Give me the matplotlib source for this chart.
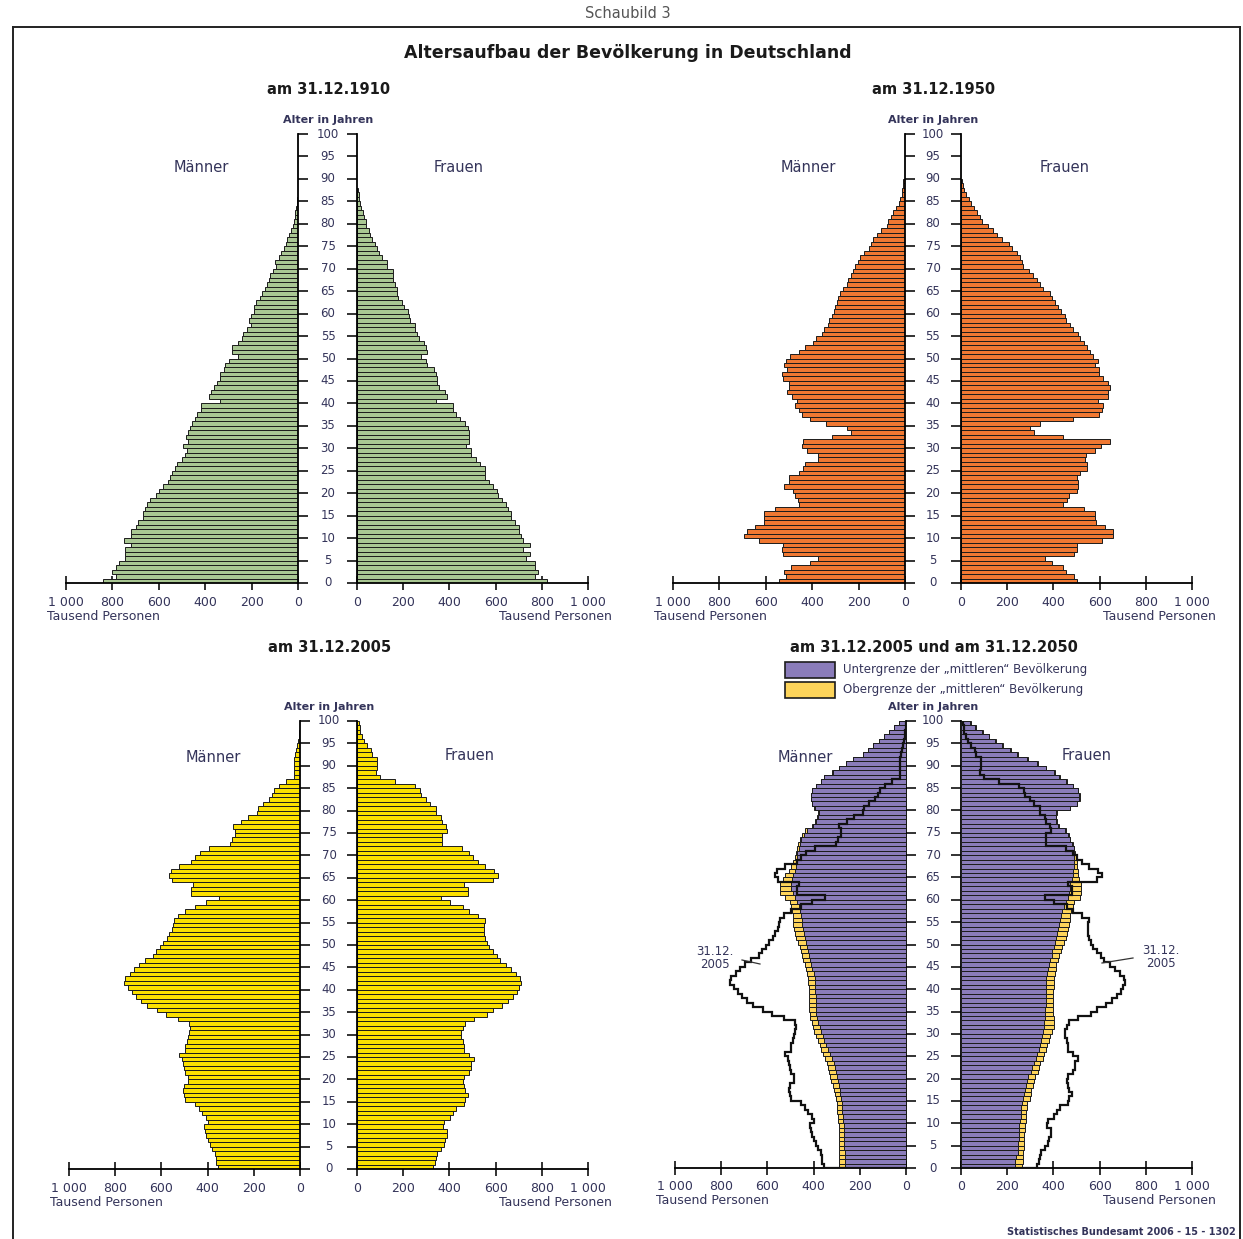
import numpy as np
import matplotlib
matplotlib.use("Agg")
import matplotlib.pyplot as plt
from matplotlib import transforms as mtrans
from matplotlib.lines import Line2D
from matplotlib.patches import Rectangle

# ---------------- data (thousand persons, by single year of age from 0) ----------------
men_1910 = [840, 785, 800, 785, 770, 745, 745, 745, 720, 750,
            720, 720, 700, 690, 670, 670, 660, 650, 640, 610,
            600, 580, 560, 550, 545, 530, 520, 500, 485, 480,
            494, 475, 483, 475, 465, 459, 445, 435, 420, 416,
            336, 382, 374, 363, 350, 336, 336, 320, 315, 299,
            259, 283, 283, 259, 243, 235, 219, 203, 211, 203,
            190, 190, 179, 163, 155, 142, 134, 126, 120, 107,
            94, 99, 83, 75, 62, 51, 46, 38, 30, 22,
            19, 14, 11, 8, 6, 4]
women_1910 = [823, 771, 784, 771, 771, 731, 747, 719, 747, 720,
              712, 700, 700, 684, 668, 668, 652, 644, 628, 612,
              604, 588, 572, 556, 556, 556, 532, 516, 492, 492,
              470, 484, 484, 484, 481, 468, 444, 430, 417, 417,
              340, 388, 380, 356, 348, 348, 340, 332, 305, 300,
              276, 305, 300, 292, 268, 260, 252, 252, 228, 225,
              220, 204, 196, 177, 172, 172, 164, 156, 156, 156,
              132, 132, 108, 97, 85, 77, 65, 58, 50, 40,
              37, 29, 26, 18, 13, 10, 8, 5]

men_1950 = [545, 512, 520, 490, 409, 373, 524, 531, 524, 631,
            696, 681, 646, 607, 607, 607, 560, 455, 460, 473,
            483, 521, 502, 502, 455, 438, 433, 373, 373, 423,
            445, 438, 316, 232, 251, 340, 409, 445, 459, 473,
            466, 488, 509, 502, 502, 524, 531, 509, 521, 512,
            495, 455, 430, 395, 383, 359, 349, 330, 326, 316,
            308, 301, 294, 287, 280, 268, 251, 244, 234, 225,
            215, 201, 194, 176, 154, 148, 136, 122, 105, 76,
            72, 62, 50, 39, 27, 22, 14, 11, 9, 7]
women_1950 = [504, 489, 455, 443, 393, 364, 489, 504, 500, 609,
              659, 659, 623, 584, 580, 580, 532, 440, 458, 469,
              504, 508, 508, 504, 515, 544, 544, 537, 541, 580,
              604, 647, 443, 318, 299, 340, 483, 599, 609, 616,
              594, 635, 637, 647, 637, 616, 599, 599, 580, 594,
              570, 558, 544, 532, 515, 508, 486, 472, 455, 450,
              432, 422, 407, 393, 386, 357, 343, 328, 311, 296,
              270, 263, 256, 242, 220, 206, 177, 155, 138, 119,
              91, 81, 69, 55, 43, 33, 23, 14, 9, 6]

men_2005 = [357, 363, 363, 368, 379, 389, 400, 405, 411, 416,
            400, 405, 424, 437, 453, 496, 501, 507, 501, 485,
            485, 496, 501, 507, 512, 523, 496, 496, 488, 485,
            480, 475, 480, 528, 581, 619, 664, 688, 709, 728,
            744, 760, 757, 736, 720, 699, 672, 635, 624, 608,
            592, 576, 568, 552, 549, 544, 528, 496, 456, 408,
            352, 472, 472, 464, 552, 568, 560, 523, 472, 456,
            432, 392, 304, 296, 283, 283, 288, 256, 224, 184,
            181, 160, 136, 120, 112, 91, 59, 24, 24, 24,
            27, 24, 21, 16, 11, 8, 5, 3, 2, 1]
women_2005 = [327, 337, 343, 348, 364, 375, 380, 388, 388, 372,
              375, 404, 417, 428, 465, 468, 481, 468, 465, 460,
              465, 484, 492, 492, 508, 484, 465, 465, 460, 452,
              452, 460, 468, 508, 564, 588, 628, 652, 676, 692,
              700, 708, 705, 689, 668, 647, 620, 604, 588, 572,
              564, 556, 548, 548, 548, 556, 524, 484, 460, 401,
              364, 481, 481, 465, 588, 609, 593, 556, 524, 500,
              484, 455, 369, 369, 369, 391, 385, 369, 364, 343,
              343, 316, 300, 276, 273, 252, 165, 101, 81, 88,
              88, 85, 65, 61, 45, 32, 21, 14, 11, 8]

men_2050_low = [262, 264, 266, 266, 268, 268, 268, 270, 270, 270,
                273, 273, 275, 276, 278, 281, 284, 287, 292, 295,
                298, 305, 309, 313, 322, 331, 338, 346, 353, 360,
                368, 374, 380, 385, 388, 390, 391, 391, 391, 392,
                393, 395, 396, 400, 405, 410, 415, 420, 424, 430,
                435, 439, 443, 447, 449, 451, 453, 458, 465, 470,
                480, 490, 496, 496, 492, 489, 480, 475, 472, 472,
                470, 465, 460, 455, 440, 430, 403, 390, 380, 378,
                395, 405, 410, 410, 405, 388, 367, 353, 317, 288,
                259, 230, 187, 165, 144, 115, 94, 72, 50, 29]
men_2050_up = [288, 288, 288, 288, 290, 290, 290, 292, 292, 292,
               295, 295, 297, 298, 300, 305, 309, 312, 318, 324,
               328, 334, 338, 342, 352, 360, 366, 374, 381, 388,
               398, 403, 408, 414, 417, 419, 420, 420, 420, 421,
               422, 423, 424, 428, 434, 439, 444, 450, 453, 460,
               468, 475, 479, 484, 489, 489, 489, 494, 500, 504,
               525, 547, 547, 545, 532, 525, 505, 496, 490, 480,
               478, 470, 466, 461, 450, 436, 408, 395, 384, 382,
               398, 408, 412, 412, 407, 390, 369, 355, 319, 290,
               260, 231, 188, 166, 145, 116, 95, 73, 51, 30]
women_2050_low = [233, 235, 238, 245, 248, 248, 250, 250, 252, 252,
                  255, 258, 258, 260, 262, 270, 272, 275, 283, 287,
                  292, 304, 309, 315, 325, 330, 337, 342, 345, 350,
                  356, 359, 361, 362, 364, 365, 366, 367, 367, 367,
                  368, 369, 370, 373, 377, 381, 386, 392, 396, 402,
                  406, 410, 415, 420, 425, 428, 432, 438, 446, 455,
                  465, 468, 470, 470, 480, 483, 486, 490, 490, 490,
                  490, 488, 480, 470, 465, 450, 420, 412, 410, 412,
                  470, 500, 510, 512, 505, 483, 454, 425, 403, 367,
                  330, 287, 243, 214, 178, 149, 120, 91, 62, 41]
women_2050_up = [265, 267, 270, 270, 272, 272, 274, 274, 276, 276,
                 280, 283, 283, 285, 287, 299, 301, 304, 312, 316,
                 321, 333, 338, 344, 355, 359, 366, 374, 381, 386,
                 396, 403, 403, 401, 400, 399, 399, 399, 399, 400,
                 401, 402, 403, 406, 410, 413, 418, 426, 432, 438,
                 446, 454, 458, 462, 468, 470, 473, 478, 483, 490,
                 515, 519, 520, 518, 509, 507, 506, 504, 500, 497,
                 494, 491, 484, 474, 468, 453, 423, 415, 413, 415,
                 473, 503, 513, 515, 508, 486, 457, 428, 406, 370,
                 333, 290, 246, 217, 181, 152, 123, 94, 65, 44]

age_ticks = list(range(0, 101, 5))
x_ticks = [0, 200, 400, 600, 800, 1000]
x_tick_labels = ["0", "200", "400", "600", "800", "1 000"]

panel_titles = ["am 31.12.1910", "am 31.12.1950", "am 31.12.2005",
                "am 31.12.2005 und am 31.12.2050"]
legend_labels = ["Untergrenze der \u201emittleren\u201c Bev\u00f6lkerung",
                 "Obergrenze der \u201emittleren\u201c Bev\u00f6lkerung"]

# ---------------- styling ----------------
C_1910 = "#a9c793"
C_1950 = "#f07832"
C_2005 = "#fbe000"
C_LOW = "#8a7cba"
C_UP = "#fdd45a"
EDGE = "#1c1c1c"
TXT = "#34345a"
FONT = "DejaVu Sans"
plt.rcParams["font.family"] = FONT

W, H = 1243, 1239
fig = plt.figure(figsize=(W / 100, H / 100), dpi=100)
fig.patch.set_facecolor("white")


def fx(px):
    return px / W


def fy(py):
    return 1 - py / H


def make_axes(xl, xr, yb, yt):
    return fig.add_axes([fx(xl), fy(yb), (xr - xl) / W, (yb - yt) / H])


def panel(mx, fxr, yb, yt, center, m_lab, f_lab, title, title_y):
    axm = make_axes(mx[0], mx[1], yb, yt)
    axf = make_axes(fxr[0], fxr[1], yb, yt)
    for ax in (axm, axf):
        ax.set_ylim(0, 100)
        ax.set_facecolor("none")
        ax.spines["top"].set_visible(False)
        ax.set_xticks(x_ticks)
        ax.set_xticklabels(x_tick_labels)
        ax.set_yticks(age_ticks)
        ax.tick_params(axis="x", direction="inout", length=10, width=1.3,
                       labelsize=9, pad=4, colors="#222222", labelcolor=TXT)
        ax.tick_params(axis="y", direction="out", length=7, width=1.3,
                       colors="#222222")
        ax.spines["bottom"].set_linewidth(1.3)
    axm.set_xlim(1000, 0)
    axf.set_xlim(0, 1000)
    axm.spines["left"].set_visible(False)
    axm.spines["right"].set_linewidth(1.3)
    axm.yaxis.tick_right()
    axm.tick_params(axis="y", labelright=False, labelleft=False)
    axf.spines["right"].set_visible(False)
    axf.spines["left"].set_linewidth(1.3)
    axf.tick_params(axis="y", labelleft=False)
    trans = mtrans.blended_transform_factory(fig.transFigure, axm.transData)
    for a in age_ticks:
        axm.text(fx(center), a, str(a), transform=trans, ha="center",
                 va="center", fontsize=8.5, color=TXT, clip_on=False)
    fig.text(fx(center), fy(yt - 14), "Alter in Jahren", ha="center",
             va="center", fontsize=8, fontweight="bold", color=TXT)
    fig.text(fx(mx[0] - 19), fy(yb + 33), "Tausend Personen", ha="left",
             va="center", fontsize=9, color=TXT)
    fig.text(fx(fxr[1] + 24), fy(yb + 33), "Tausend Personen", ha="right",
             va="center", fontsize=9, color=TXT)
    fig.text(fx(m_lab[0]), fy(m_lab[1]), "M\u00e4nner", ha="center",
             va="center", fontsize=10.5, color=TXT)
    fig.text(fx(f_lab[0]), fy(f_lab[1]), "Frauen", ha="center",
             va="center", fontsize=10.5, color=TXT)
    fig.text(fx(center + 1), fy(title_y), title, ha="center", va="center",
             fontsize=10.5, fontweight="bold", color="#1a1a1a")
    return axm, axf


def bars(ax, vals, color, z=2):
    ages = np.arange(len(vals))
    ax.barh(ages, vals, height=1.0, align="edge", color=color,
            edgecolor=EDGE, linewidth=0.7, zorder=z)


# header and frame
fig.text(fx(628), fy(14), "Schaubild 3", ha="center", va="center",
         fontsize=10.5, color="#555555")
fig.text(fx(628), fy(53), "Altersaufbau der Bev\u00f6lkerung in Deutschland",
         ha="center", va="center", fontsize=12.5, fontweight="bold",
         color="#1a1a1a")
for (x0, y0, x1, y1) in [(13, 27, 1240, 27), (13, 27, 13, 1239),
                         (1240, 27, 1240, 1239)]:
    fig.add_artist(Line2D([fx(x0), fx(x1)], [fy(y0), fy(y1)],
                          transform=fig.transFigure, color="#222222", lw=1.4))

# Panel 1: 1910
m1, f1 = panel((66, 298), (357, 588), 583, 134, 328, (201, 167), (459, 167),
               panel_titles[0], 90)
bars(m1, men_1910, C_1910)
bars(f1, women_1910, C_1910)

# Panel 2: 1950
m2, f2 = panel((673, 905), (961, 1192), 583, 134, 933, (808, 167), (1065, 167),
               panel_titles[1], 90)
bars(m2, men_1950, C_1950)
bars(f2, women_1950, C_1950)

# Panel 3: 2005
m3, f3 = panel((69, 300), (357, 588), 1169, 721, 329, (213, 757), (470, 755),
               panel_titles[2], 647)
bars(m3, men_2005, C_2005)
bars(f3, women_2005, C_2005)

# Panel 4: 2005 and 2050
m4, f4 = panel((675, 906), (961, 1192), 1168, 721, 933, (805, 757), (1087, 755),
               panel_titles[3], 648)
bars(m4, men_2050_up, C_UP, z=2)
bars(m4, men_2050_low, C_LOW, z=3)
bars(f4, women_2050_up, C_UP, z=2)
bars(f4, women_2050_low, C_LOW, z=3)
edges = np.arange(len(men_2005) + 1)
m4.stairs(men_2005, edges, orientation="horizontal", baseline=0,
          color="#111111", lw=1.6, zorder=5)
f4.stairs(women_2005, edges, orientation="horizontal", baseline=0,
          color="#111111", lw=1.6, zorder=5)

# legend of panel 4
for i, (lab, col) in enumerate(zip(legend_labels, [C_LOW, C_UP])):
    y0 = 662 + i * 20
    fig.add_artist(Rectangle((fx(785), fy(y0 + 16)), 50 / W, 16 / H,
                             transform=fig.transFigure, facecolor=col,
                             edgecolor=EDGE, lw=1.2))
    fig.text(fx(843), fy(y0 + 8), lab, ha="left", va="center",
             fontsize=8.5, color=TXT)

# "31.12. 2005" annotations
fig.text(fx(715), fy(958), "31.12.\n2005", ha="center", va="center",
         fontsize=8.5, color=TXT, linespacing=1.0)
fig.add_artist(Line2D([fx(742), fx(760)], [fy(960), fy(964)],
                      transform=fig.transFigure, color="#333333", lw=0.9))
fig.text(fx(1161), fy(957), "31.12.\n2005", ha="center", va="center",
         fontsize=8.5, color=TXT, linespacing=1.0)
fig.add_artist(Line2D([fx(1102), fx(1133)], [fy(963), fy(958)],
                      transform=fig.transFigure, color="#333333", lw=0.9))

fig.text(fx(1236), fy(1232), "Statistisches Bundesamt 2006 - 15 - 1302",
         ha="right", va="center", fontsize=7, fontweight="bold", color=TXT)

fig.savefig("out.png", dpi=100, facecolor="white")
